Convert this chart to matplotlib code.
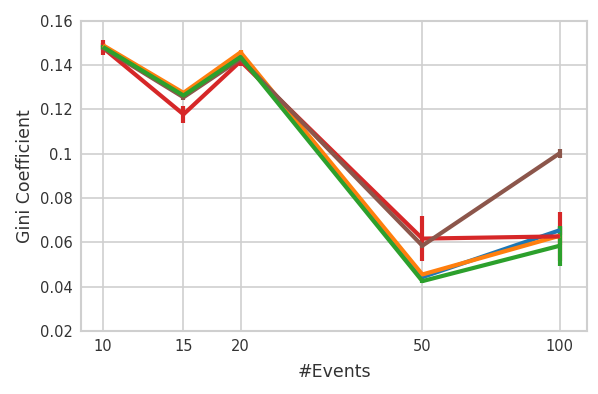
import matplotlib
matplotlib.use("Agg")
import matplotlib.pyplot as plt
from matplotlib.ticker import FixedLocator, FixedFormatter, NullLocator

events = [10, 15, 20, 50, 100]
y_ticks = [0.02, 0.04, 0.06, 0.08, 0.10, 0.12, 0.14, 0.16]
y_tick_labels = ["0.02", "0.04", "0.06", "0.08", "0.1", "0.12", "0.14", "0.16"]

blue = [0.1485, 0.1262, 0.1452, 0.0443, 0.0655]
blue_err = [0.0015, 0.001, 0.001, 0.001, 0.002]
orange = [0.1490, 0.1275, 0.1458, 0.0455, 0.0630]
orange_err = [0.001, 0.001, 0.001, 0.001, 0.004]
red = [0.1478, 0.1178, 0.1418, 0.0617, 0.0627]
red_err = [0.0034, 0.0038, 0.002, 0.0100, 0.0110]
brown = [0.1478, 0.1255, 0.1428, 0.0585, 0.1003]
brown_err = [0.001, 0.001, 0.001, 0.001, 0.002]
green = [0.1482, 0.1263, 0.1437, 0.0425, 0.0585]
green_err = [0.001, 0.001, 0.001, 0.001, 0.009]

series = [
    (blue, blue_err, "#1f77b4"),
    (orange, orange_err, "#ff7f0e"),
    (red, red_err, "#d62728"),
    (brown, brown_err, "#8c564b"),
    (green, green_err, "#2ca02c"),
]

fig = plt.figure(figsize=(5.98, 3.94), dpi=100)
ax = fig.add_axes([0.1355, 0.16, 0.846, 0.787])

for vals, errs, col in series:
    ax.errorbar(events, vals, yerr=errs, color=col, lw=3.0, elinewidth=3.0,
                capsize=0, solid_capstyle="butt")

ax.set_xscale("log")
ax.set_xlim(8.95, 114.6)
ax.set_ylim(0.02, 0.16)
ax.xaxis.set_major_locator(FixedLocator(events))
ax.xaxis.set_major_formatter(FixedFormatter([str(e) for e in events]))
ax.xaxis.set_minor_locator(NullLocator())
ax.yaxis.set_major_locator(FixedLocator(y_ticks))
ax.yaxis.set_major_formatter(FixedFormatter(y_tick_labels))

ax.grid(True, color="#cfcfcf", lw=1.2)
ax.set_axisbelow(True)
for s in ax.spines.values():
    s.set_color("#cfcfcf")
    s.set_linewidth(1.5)
ax.tick_params(length=0, labelsize=10.5, labelcolor="#333333", pad=6)
ax.set_xlabel("#Events", fontsize=12.5, color="#333333", labelpad=6)
ax.set_ylabel("Gini Coefficient", fontsize=12.5, color="#333333", labelpad=4)

fig.savefig("out.png", dpi=100)
